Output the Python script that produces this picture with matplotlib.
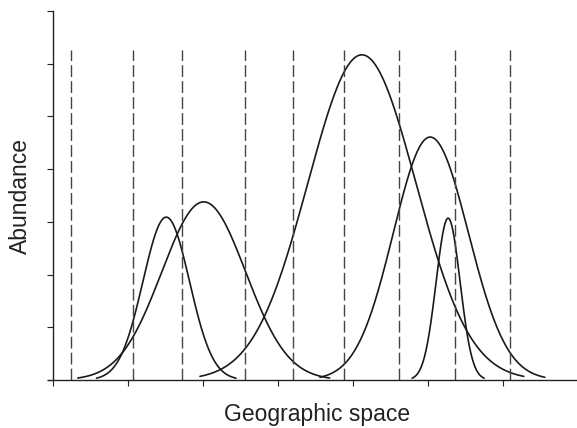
import numpy as np
import matplotlib
matplotlib.use("Agg")
import matplotlib.pyplot as plt

# species response curves: centre, peak abundance, left / right spread
centres = [1.51, 2.01, 4.12, 5.03, 5.27]
peaks = [3.09, 3.38, 6.17, 4.61, 3.07]
sig_left = [0.31, 0.56, 0.72, 0.49, 0.16]
sig_right = [0.31, 0.56, 0.72, 0.51, 0.16]

# sampling sites (dashed lines)
sites = [0.24, 1.07, 1.72, 2.56, 3.20, 3.88, 4.61, 5.36, 6.09]
site_top = 6.26

xticks = [0, 1, 2, 3, 4, 5, 6]
yticks = [0, 1, 2, 3, 4, 5, 6, 7]

plt.rcParams['font.family'] = ['Liberation Sans', 'DejaVu Sans']

fig = plt.figure(figsize=(5.77, 4.28), dpi=100)
ax = fig.add_axes([0.0828, 0.0937, 0.9186, 0.8804])

for c, h, sl, sr in zip(centres, peaks, sig_left, sig_right):
    x = np.linspace(c - 3 * sl, c + 3 * sr, 300)
    s = np.where(x < c, sl, sr)
    y = h * np.exp(-0.5 * ((x - c) / s) ** 2)
    ax.plot(x, y, color='#1a1a1a', lw=1.2, solid_capstyle='round')

for xs in sites:
    ax.plot([xs, xs], [0, site_top], color='#444444', lw=1.0,
            linestyle=(0, (8.5, 3)))

ax.set_xlim(-0.07, 7)
ax.set_ylim(-0.15, 7)
ax.spines['left'].set_position(('data', 0))
ax.spines['bottom'].set_position(('data', 0))
ax.spines['left'].set_bounds(0, 7)
ax.spines['bottom'].set_bounds(-0.07, 7)
ax.spines['top'].set_visible(False)
ax.spines['right'].set_visible(False)
for sp in ('left', 'bottom'):
    ax.spines[sp].set_linewidth(1.0)
    ax.spines[sp].set_color('#222222')

ax.set_xticks(xticks)
ax.set_yticks(yticks)
ax.set_xticklabels([])
ax.set_yticklabels([])
ax.tick_params(direction='out', length=4, width=0.8, color='#222222')

fig.text(0.035, 1 - 196 / 428, 'Abundance', rotation=90, ha='center',
         va='center', fontsize=16.5, color='#222222')
fig.text(317 / 577, 1 - 415 / 428, 'Geographic space', ha='center',
         va='center', fontsize=16.5, color='#222222')

fig.savefig('out.png', dpi=100)
